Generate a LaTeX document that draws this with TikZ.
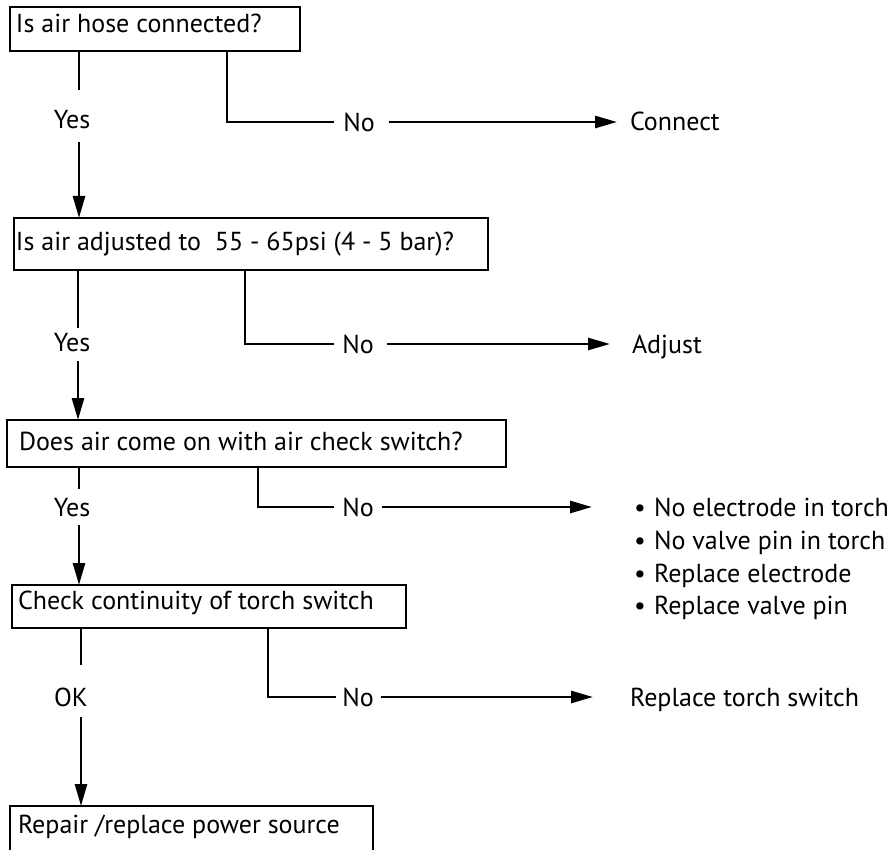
\documentclass[tikz,border=0pt]{standalone}
\usepackage{fontspec}
\setmainfont{PT Sans}
\usetikzlibrary{arrows.meta}
\begin{document}
\begin{tikzpicture}[x=1pt,y=-1pt,
  every node/.style={font=\fontsize{26}{30}\selectfont, inner sep=0pt, outer sep=0pt},
  box/.style={draw, line width=2.9pt, anchor=north west},
  ln/.style={line width=2.7pt},
  arr/.style={ln, -{Triangle[length=22pt,width=12pt]}},
  txt/.style={anchor=base west},
]
\clip (0,0) rectangle (891,850);

% question boxes
\node[box, minimum width=290pt, minimum height=44pt] (b1) at (10,7) {};
\node[box, minimum width=474pt, minimum height=52pt] (b2) at (14,218) {};
\node[box, minimum width=499pt, minimum height=47pt] (b3) at (7,420) {};
\node[box, minimum width=394pt, minimum height=43pt] (b4) at (12,585) {};
\node[box, minimum width=363pt, minimum height=80pt] (b5) at (10,806) {};

% box texts
\node[txt] (t1) at (16,33) {Is air hose connected?};
\node[txt] (t2) at (16,251) {Is air adjusted to\ \ 55 - 65psi (4 - 5 bar)?};
\node[txt] (t3) at (19,450) {Does air come on with air check switch?};
\node[txt] (t4) at (18,609) {Check continuity of torch switch};
\node[txt] (t5) at (18,833) {Repair /replace power source};

% x positions of the downward branches
\coordinate (yx1) at (79,0);
\coordinate (yx2) at (78,0);
\coordinate (yx3) at (79,0);
\coordinate (yx4) at (81,0);
\coordinate (nx1) at (227,0);
\coordinate (nx2) at (245,0);
\coordinate (nx3) at (258,0);
\coordinate (nx4) at (268,0);

% answer labels on the main line
\node (y1) at (72,120) {Yes};
\node (y2) at (72,343) {Yes};
\node (y3) at (72,508) {Yes};
\node (y4) at (71,697) {OK};

% answer labels on the side branches
\node (n1) at (359,122) {No};
\node (n2) at (358,344) {No};
\node (n3) at (358,507) {No};
\node (n4) at (358,697) {No};

% remedies
\node[txt] (r1) at (630,131) {Connect};
\node[txt] (r2) at (632,353) {Adjust};
\node[txt] (l1) at (634,516) {\makebox[20pt][l]{•}No electrode in torch};
\node[txt] (l2) at (634,549) {\makebox[20pt][l]{•}No valve pin in torch};
\node[txt] (l3) at (634,582) {\makebox[20pt][l]{•}Replace electrode};
\node[txt] (l4) at (634,614) {\makebox[20pt][l]{•}Replace valve pin};
\node[txt] (r4) at (630,706) {Replace torch switch};

% main line: yes / ok
\draw[ln, shorten >=21pt] (b1.south -| yx1) -- (y1.north -| yx1);
\draw[arr, shorten <=13pt] (y1.south -| yx1) -- (b2.north -| yx1);
\draw[ln, shorten >=6pt] (b2.south -| yx2) -- (y2.north -| yx2);
\draw[arr, shorten <=9pt] (y2.south -| yx2) -- (b3.north -| yx2);
\draw[ln, shorten >=10pt] (b3.south -| yx3) -- (y3.north -| yx3);
\draw[arr, shorten <=8pt] (y3.south -| yx3) -- (b4.north -| yx3);
\draw[ln, shorten >=23pt] (b4.south -| yx4) -- (y4.north -| yx4);
\draw[arr, shorten <=11pt] (y4.south -| yx4) -- (b5.north -| yx4);

% side branches: no
\draw[ln, shorten >=9pt] (b1.south -| nx1) |- (n1.west);
\draw[arr, shorten <=14pt, shorten >=13pt] (n1.east) -- (n1.east -| r1.west);
\draw[ln, shorten >=8pt] (b2.south -| nx2) |- (n2.west);
\draw[arr, shorten <=13pt, shorten >=22pt] (n2.east) -- (n2.east -| r2.west);
\draw[ln, shorten >=8pt] (b3.south -| nx3) |- (n3.west);
\draw[arr, shorten <=8pt, shorten >=42pt] (n3.east) -- (n3.east -| l1.west);
\draw[ln, shorten >=6pt] (b4.south -| nx4) |- (n4.west);
\draw[arr, shorten <=7pt, shorten >=37pt] (n4.east) -- (n4.east -| r4.west);
\end{tikzpicture}
\end{document}
